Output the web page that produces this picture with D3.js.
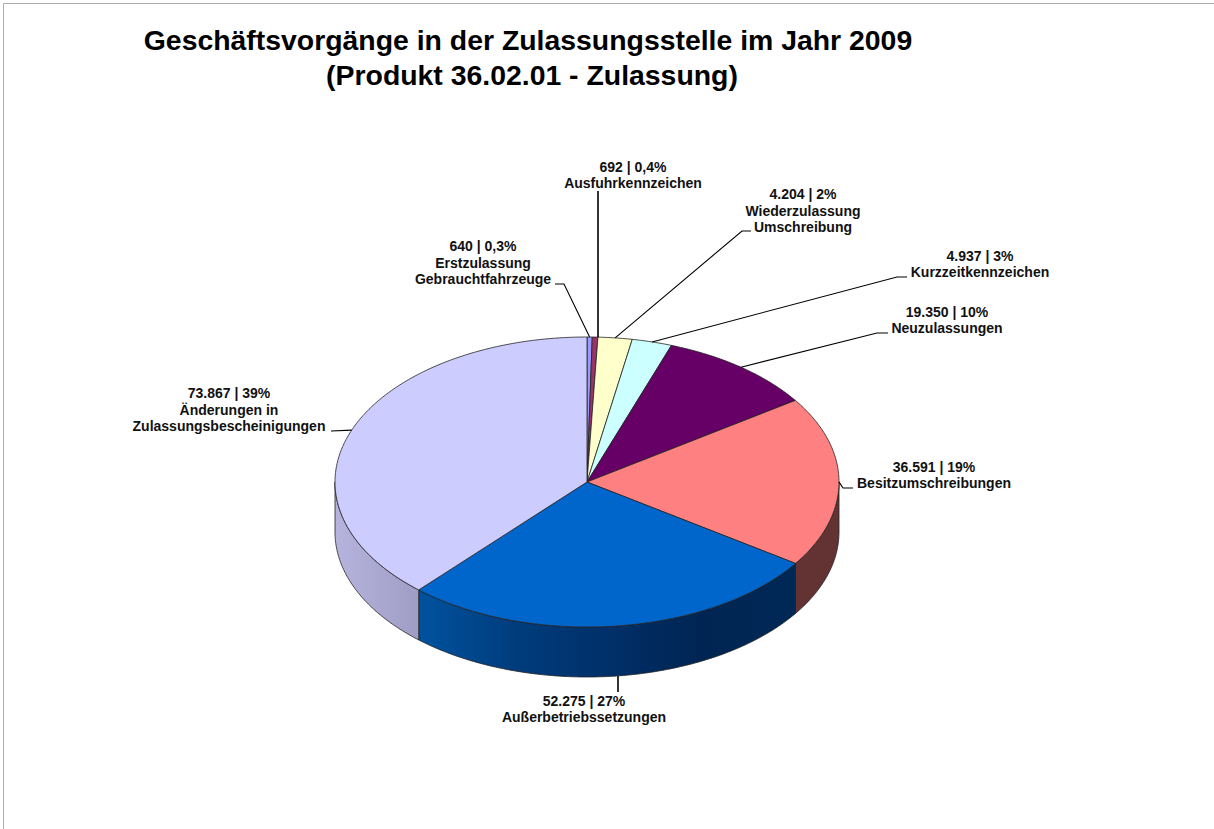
<!DOCTYPE html>
<html lang="de"><head><meta charset="utf-8">
<script src="https://cdn.jsdelivr.net/npm/d3@7/dist/d3.min.js"></script>
<style>html,body{margin:0;padding:0;background:#fff;overflow:hidden}svg{display:block}text{font-family:"Liberation Sans",Arial,sans-serif;font-weight:bold;fill:#111}</style>
</head><body><svg id="c" width="1214" height="829"></svg>
<script>
const categories = ["Erstzulassung Gebrauchtfahrzeuge","Ausfuhrkennzeichen","Wiederzulassung Umschreibung","Kurzzeitkennzeichen","Neuzulassungen","Besitzumschreibungen","Außerbetriebssetzungen","Änderungen in Zulassungsbescheinigungen"];
const values = [640,692,4204,4937,19350,36591,52275,73867];
const valueLabels = ["640 | 0,3%","692 | 0,4%","4.204 | 2%","4.937 | 3%","19.350 | 10%","36.591 | 19%","52.275 | 27%","73.867 | 39%"];
const labelLines = [["Erstzulassung","Gebrauchtfahrzeuge"],["Ausfuhrkennzeichen"],["Wiederzulassung","Umschreibung"],["Kurzzeitkennzeichen"],["Neuzulassungen"],["Besitzumschreibungen"],["Außerbetriebssetzungen"],["Änderungen in","Zulassungsbescheinigungen"]];
const colors = ["#9999FF","#993366","#FFFFCC","#CCFFFF","#660066","#FF8080","#0066CC","#CCCCFF"];
const titleLines = ["Geschäftsvorgänge in der Zulassungsstelle im Jahr 2009","(Produkt 36.02.01 - Zulassung)"];

// layout, separate from the data
const labelX = [483,633,803,980,947,934,584,229];
const labelLastBaseline = [284,188,232,277,333,488,722,431];
const leaderEnds = [[[555,284],[564,284]],[[598,191]],[[751,231],[742,231]],[[907,277],[897,277]],[[888,333],[877,333]],[[853,488],[843,488]],[[618,692]],[[331,431]]];
const wallFills = {5:"#633333",6:"url(#gBlue)",7:"url(#gLilac)"};
const depth = 50;

const svg = d3.select("#c");
const x = d3.scaleLinear().domain([-1,1]).range([335,839]);
const y = d3.scaleLinear().domain([-1,1]).range([627,337]);
const px = a => x(Math.sin(a)), py = (a,dz=0) => y(Math.cos(a)) + dz;
const line = d3.line();
const arcs = d3.pie().sort(null).value(d=>d)(values);
const angles = (a0,a1) => { const n = Math.max(2,Math.ceil((a1-a0)/0.01)); return d3.range(n+1).map(i=>a0+(a1-a0)*i/n); };

const defs = svg.append("defs");
function grad(id, stops){
  const g = defs.append("linearGradient").attr("id",id).attr("gradientUnits","userSpaceOnUse")
    .attr("x1",x(-1)).attr("x2",x(1)).attr("y1",0).attr("y2",0);
  stops.forEach(([o,c])=>g.append("stop").attr("offset",o).attr("stop-color",c));
}
grad("gLilac",[[0,"#B6B4DE"],[0.17,"#9F9DC4"]]);
grad("gBlue",[[0.167,"#00529E"],[0.36,"#003C7C"],[0.6,"#002C62"],[0.73,"#002552"],[0.91,"#002856"]]);

// page frame
svg.append("path").attr("d",line([[3.5,829],[3.5,3.5],[1214,3.5]])).attr("fill","none").attr("stroke","#ABABAB").attr("stroke-width",1);

// side walls (front half only)
arcs.forEach((d,i)=>{
  const a0 = Math.max(d.startAngle,Math.PI/2), a1 = Math.min(d.endAngle,3*Math.PI/2);
  if(a1<=a0) return;
  const as = angles(a0,a1);
  const pts = as.map(a=>[px(a),py(a)]).concat(as.slice().reverse().map(a=>[px(a),py(a,depth)]));
  svg.append("path").attr("d",line(pts)+"Z").attr("fill",wallFills[i]||d3.color(colors[i]).darker(1.5))
    .attr("stroke","#222").attr("stroke-width",0.8).attr("stroke-linejoin","round");
});

// top faces
arcs.forEach((d,i)=>{
  const pts = [[x(0),y(0)]].concat(angles(d.startAngle,d.endAngle).map(a=>[px(a),py(a)]));
  svg.append("path").attr("d",line(pts)+"Z").attr("fill",colors[i])
    .attr("stroke","#222").attr("stroke-width",0.8).attr("stroke-linejoin","round");
});

// leaders
arcs.forEach((d,i)=>{
  const a = (d.startAngle+d.endAngle)/2;
  const dz = (i===6) ? depth : 0;
  const pts = leaderEnds[i].concat([[px(a),py(a,dz)]]);
  if(i===1||i===6) pts[1][0]=pts[0][0];
  svg.append("path").attr("d",line(pts)).attr("fill","none").attr("stroke","#000")
    .attr("stroke-width",(i===1||i===6)?1.6:1.1);
});

// labels
const lh = 16.3;
arcs.forEach((d,i)=>{
  const lines = [valueLabels[i]].concat(labelLines[i]);
  lines.forEach((t,k)=>{
    svg.append("text").attr("x",labelX[i]).attr("y",labelLastBaseline[i]-(lines.length-1-k)*lh)
      .attr("text-anchor","middle").attr("font-size",14).text(t);
  });
});

// title
svg.selectAll("text.t").data(titleLines).join("text").attr("class","t")
  .attr("x",(d,i)=>i?532:528).attr("y",(d,i)=>50+i*35).attr("text-anchor","middle")
  .attr("font-size",28.4).style("fill","#000").text(d=>d);
</script></body></html>
